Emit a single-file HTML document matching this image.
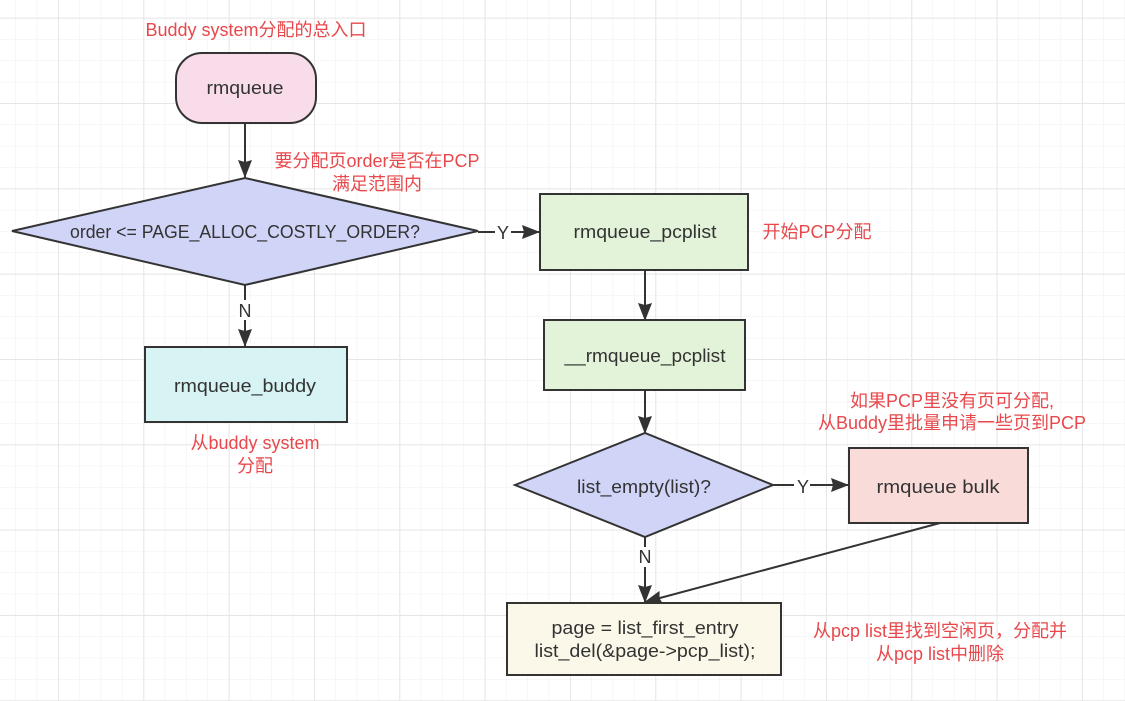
<!DOCTYPE html>
<html><head><meta charset="utf-8"><style>
html,body{margin:0;padding:0;background:#fff;}
svg{display:block;}
text{font-family:"Liberation Sans","Noto Sans CJK SC",sans-serif;}
.n{font-size:18px;fill:#333;text-anchor:middle;dominant-baseline:central;}
.r{font-size:18px;fill:#e8484b;text-anchor:middle;dominant-baseline:central;}
.b{stroke:#333;stroke-width:2;}
</style></head><body>
<svg width="1125" height="701" viewBox="0 0 1125 701" xmlns="http://www.w3.org/2000/svg">
<defs>
<pattern id="g" x="15.4" y="17.8" width="21.33" height="21.33" patternUnits="userSpaceOnUse">
<path d="M0 0H21.33M0 0V21.33" stroke="#efefef" stroke-width="1" fill="none"/>
</pattern>
<pattern id="G" x="58" y="103" width="85.33" height="85.33" patternUnits="userSpaceOnUse">
<path d="M0 0H85.33M0 0V85.33" stroke="#e6e6e6" stroke-width="2" fill="none"/>
</pattern>
<marker id="a" markerWidth="18" markerHeight="14" refX="17" refY="7" orient="auto" markerUnits="userSpaceOnUse">
<path d="M0,0 L18,7 L0,14 L2,7 Z" fill="#333"/>
</marker>
</defs>
<rect width="1125" height="701" fill="#fff"/>
<rect width="1125" height="701" fill="url(#g)"/>
<rect width="1125" height="701" fill="url(#G)"/>

<text class="r" x="256" y="30">Buddy system分配的总入口</text>
<rect class="b" x="176" y="53" width="140" height="70" rx="26" fill="#f8dce9"/>
<text class="n" x="245" y="88" textLength="77" lengthAdjust="spacingAndGlyphs">rmqueue</text>
<line class="b" x1="245" y1="123" x2="245" y2="177" marker-end="url(#a)"/>

<polygon class="b" points="12,231 245,178 478,231 245,285" fill="#d0d4f7"/>
<text class="n" x="245" y="232" textLength="350" lengthAdjust="spacingAndGlyphs">order &lt;= PAGE_ALLOC_COSTLY_ORDER?</text>
<text class="r" x="377" y="161">要分配页order是否在PCP</text>
<text class="r" x="377" y="184">满足范围内</text>

<line class="b" x1="478" y1="232" x2="539" y2="232" marker-end="url(#a)"/>
<rect x="495" y="222" width="16" height="20" fill="#fff"/>
<text class="n" x="503" y="233">Y</text>

<rect class="b" x="540" y="194" width="208" height="76" fill="#e2f3d9"/>
<text class="n" x="645" y="232" textLength="143" lengthAdjust="spacingAndGlyphs">rmqueue_pcplist</text>
<text class="r" x="817" y="232">开始PCP分配</text>
<line class="b" x1="645" y1="270" x2="645" y2="320" marker-end="url(#a)"/>

<rect class="b" x="544" y="320" width="201" height="70" fill="#e2f3d9"/>
<text class="n" x="645" y="356" textLength="161" lengthAdjust="spacingAndGlyphs">__rmqueue_pcplist</text>

<line class="b" x1="245" y1="285" x2="245" y2="346" marker-end="url(#a)"/>
<rect x="236" y="300" width="18" height="20" fill="#fff"/>
<text class="n" x="245" y="311">N</text>
<rect class="b" x="145" y="347" width="202" height="75" fill="#d8f3f3"/>
<text class="n" x="245" y="386" textLength="142" lengthAdjust="spacingAndGlyphs">rmqueue_buddy</text>
<text class="r" x="255" y="443">从buddy system</text>
<text class="r" x="255" y="466">分配</text>

<line class="b" x1="645" y1="390" x2="645" y2="433" marker-end="url(#a)"/>
<polygon class="b" points="515,485 645,433 773,485 645,537" fill="#d0d4f7"/>
<text class="n" x="644" y="487" textLength="134" lengthAdjust="spacingAndGlyphs">list_empty(list)?</text>
<line class="b" x1="773" y1="485" x2="848" y2="485" marker-end="url(#a)"/>
<rect x="794" y="475" width="16" height="20" fill="#fff"/>
<text class="n" x="803" y="487">Y</text>
<rect class="b" x="849" y="448" width="179" height="75" fill="#f9dbd9"/>
<text class="n" x="938" y="487" textLength="123" lengthAdjust="spacingAndGlyphs">rmqueue  bulk</text>
<text class="r" x="952" y="401">如果PCP里没有页可分配,</text>
<text class="r" x="952" y="423">从Buddy里批量申请一些页到PCP</text>

<line class="b" x1="645" y1="537" x2="645" y2="602" marker-end="url(#a)"/>
<rect x="636" y="547" width="18" height="20" fill="#fff"/>
<text class="n" x="645" y="557">N</text>
<line class="b" x1="940" y1="523" x2="645" y2="602" marker-end="url(#a)"/>

<rect class="b" x="507" y="603" width="274" height="72" fill="#fbf8e9"/>
<text class="n" x="645" y="628" textLength="187" lengthAdjust="spacingAndGlyphs">page = list_first_entry</text>
<text class="n" x="645" y="651" textLength="221" lengthAdjust="spacingAndGlyphs">list_del(&amp;page-&gt;pcp_list);</text>
<text class="r" x="940" y="631">从pcp list里找到空闲页，分配并</text>
<text class="r" x="940" y="654">从pcp list中删除</text>
</svg>
</body></html>
